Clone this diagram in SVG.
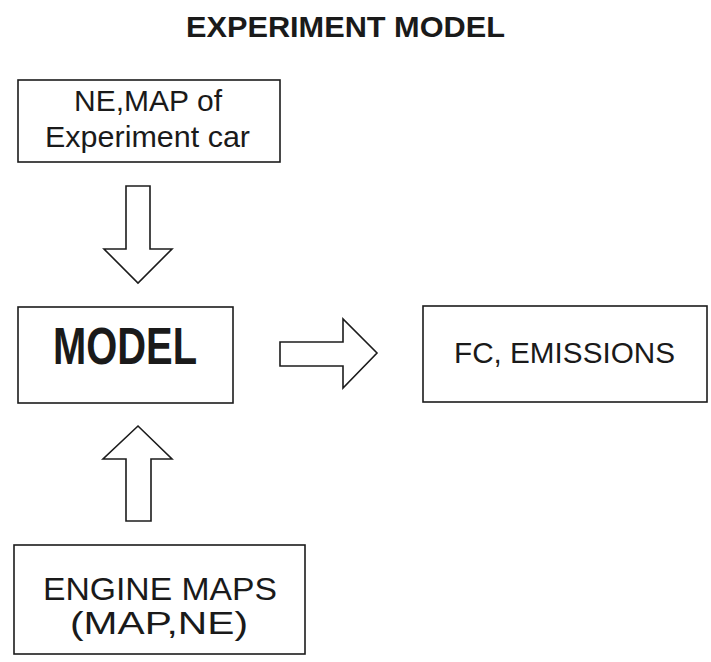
<svg xmlns="http://www.w3.org/2000/svg" width="711" height="662" viewBox="0 0 711 662">
  <style>
    .box { fill: #ffffff; stroke: #1c1c1c; stroke-width: 1.6; }
    .arrow { fill: #ffffff; stroke: #1c1c1c; stroke-width: 1.6; stroke-linejoin: miter; }
    .lbl { font-family: "Liberation Sans", Arial, sans-serif; font-size: 29px; fill: #1a1a1a; text-anchor: middle; }
    .title { font-family: "Liberation Sans", Arial, sans-serif; font-size: 30px; font-weight: bold; fill: #1a1a1a; text-anchor: middle; }
  </style>
  <rect width="711" height="662" fill="#ffffff"/>

  <text class="title" x="345.5" y="37" textLength="319" lengthAdjust="spacingAndGlyphs">EXPERIMENT MODEL</text>

  <g id="node-experiment-car">
    <rect class="box" x="18" y="80" width="262" height="82"/>
    <text class="lbl" x="148" y="111" textLength="148" lengthAdjust="spacingAndGlyphs">NE,MAP of</text>
    <text class="lbl" x="147.5" y="147" textLength="205" lengthAdjust="spacingAndGlyphs">Experiment car</text>
  </g>

  <g id="node-model">
    <rect class="box" x="18" y="307" width="215" height="96"/>
    <text class="lbl" x="125" y="364" style="font-size:51px;font-weight:bold" textLength="144" lengthAdjust="spacingAndGlyphs">MODEL</text>
  </g>

  <g id="node-fc-emissions">
    <rect class="box" x="423" y="306" width="284" height="96"/>
    <text class="lbl" x="564.5" y="363" textLength="221" lengthAdjust="spacingAndGlyphs">FC, EMISSIONS</text>
  </g>

  <g id="node-engine-maps">
    <rect class="box" x="14" y="545" width="291" height="109"/>
    <text class="lbl" x="160" y="600" style="font-size:31px" textLength="234" lengthAdjust="spacingAndGlyphs">ENGINE MAPS</text>
    <text class="lbl" x="159" y="634" style="font-size:31px" textLength="178" lengthAdjust="spacingAndGlyphs">(MAP,NE)</text>
  </g>

  <g id="connectors">
    <!-- block arrow: experiment car data into the model -->
    <polygon class="arrow" points="126,186 150,186 150,249 172,249 138,283 104,249 126,249"/>
    <!-- block arrow: engine maps up into the model -->
    <polygon class="arrow" points="126,521 151,521 151,459 172,459 138,426 103,459 126,459"/>
    <!-- block arrow: model output to FC, emissions -->
    <polygon class="arrow" points="280,342 343,342 343,319 377,353 343,388 343,366 280,366"/>
  </g>
</svg>
